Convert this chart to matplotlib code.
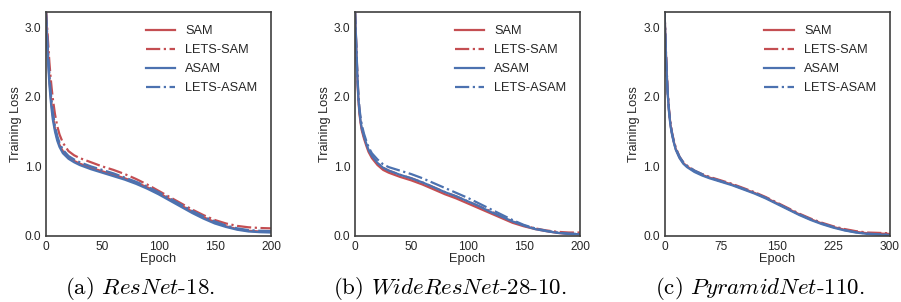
import matplotlib
matplotlib.use("Agg")
import matplotlib.pyplot as plt
import numpy as np

# ---------------- data ----------------
epochs_a = [0, 1, 2, 3, 4, 5, 6, 8, 10, 12, 15, 20, 25, 30, 40, 50, 60, 70, 80, 90,
            100, 110, 120, 130, 140, 150, 160, 170, 180, 190, 200]
sam_a = [3.25, 2.9, 2.55, 2.25, 2.05, 1.88, 1.74, 1.54, 1.40, 1.31, 1.22, 1.13, 1.08, 1.04, 0.98,
         0.93, 0.88, 0.83, 0.77, 0.70, 0.62, 0.53, 0.44, 0.35, 0.27, 0.20, 0.14, 0.10, 0.075, 0.065, 0.06]
lets_sam_a = [3.25, 3.0, 2.75, 2.5, 2.3, 2.13, 1.98, 1.75, 1.58, 1.46, 1.34, 1.22, 1.16, 1.12, 1.06,
              1.00, 0.95, 0.89, 0.82, 0.74, 0.65, 0.56, 0.47, 0.38, 0.30, 0.23, 0.18, 0.145, 0.125, 0.115, 0.11]
asam_a = [3.2, 2.8, 2.45, 2.18, 1.98, 1.82, 1.68, 1.50, 1.37, 1.28, 1.19, 1.11, 1.06, 1.02, 0.96,
          0.91, 0.86, 0.81, 0.75, 0.68, 0.60, 0.51, 0.42, 0.33, 0.25, 0.18, 0.13, 0.09, 0.065, 0.055, 0.05]
lets_asam_a = [3.22, 2.9, 2.6, 2.32, 2.1, 1.94, 1.79, 1.58, 1.44, 1.34, 1.24, 1.15, 1.10, 1.06, 1.00,
               0.95, 0.90, 0.84, 0.78, 0.71, 0.63, 0.54, 0.45, 0.36, 0.28, 0.21, 0.15, 0.11, 0.085, 0.075, 0.07]

epochs_b = [0, 1, 2, 3, 4, 5, 6, 8, 10, 12, 15, 20, 25, 30, 40, 50, 60, 70, 80, 90,
            100, 110, 120, 130, 140, 150, 160, 170, 180, 190, 200]
sam_b = [3.25, 2.75, 2.3, 1.95, 1.75, 1.62, 1.52, 1.40, 1.30, 1.21, 1.12, 1.02, 0.95, 0.91, 0.85,
         0.80, 0.74, 0.67, 0.60, 0.54, 0.47, 0.40, 0.33, 0.26, 0.19, 0.14, 0.10, 0.07, 0.045, 0.03, 0.025]
lets_sam_b = [3.25, 2.8, 2.35, 2.0, 1.8, 1.66, 1.56, 1.43, 1.33, 1.24, 1.15, 1.05, 0.98, 0.94, 0.88,
              0.83, 0.77, 0.70, 0.63, 0.57, 0.50, 0.43, 0.36, 0.28, 0.21, 0.15, 0.11, 0.08, 0.06, 0.05, 0.05]
asam_b = [3.25, 2.78, 2.33, 1.98, 1.78, 1.65, 1.55, 1.43, 1.33, 1.24, 1.15, 1.05, 0.98, 0.94, 0.88,
          0.83, 0.77, 0.70, 0.63, 0.57, 0.50, 0.43, 0.35, 0.28, 0.21, 0.15, 0.10, 0.07, 0.045, 0.03, 0.025]
lets_asam_b = [3.25, 2.82, 2.38, 2.03, 1.83, 1.70, 1.60, 1.47, 1.37, 1.28, 1.19, 1.10, 1.03, 0.99, 0.94,
               0.89, 0.83, 0.76, 0.69, 0.62, 0.55, 0.47, 0.39, 0.31, 0.23, 0.16, 0.11, 0.075, 0.05, 0.035, 0.03]

epochs_c = [0, 2, 4, 6, 8, 10, 12, 15, 20, 25, 30, 40, 50, 60, 75, 90, 105, 120, 135, 150,
            165, 180, 195, 210, 225, 240, 255, 270, 285, 300]
sam_c = [3.25, 2.6, 2.1, 1.8, 1.6, 1.47, 1.37, 1.25, 1.13, 1.05, 1.00, 0.93, 0.88, 0.84, 0.79,
         0.74, 0.68, 0.62, 0.55, 0.47, 0.39, 0.31, 0.24, 0.18, 0.13, 0.09, 0.06, 0.04, 0.035, 0.03]
lets_sam_c = [3.25, 2.62, 2.12, 1.82, 1.62, 1.49, 1.39, 1.27, 1.14, 1.06, 1.01, 0.94, 0.89, 0.85, 0.80,
              0.75, 0.69, 0.63, 0.56, 0.48, 0.40, 0.32, 0.25, 0.19, 0.14, 0.10, 0.07, 0.05, 0.045, 0.04]
asam_c = [3.25, 2.58, 2.08, 1.78, 1.58, 1.46, 1.36, 1.24, 1.12, 1.04, 0.99, 0.92, 0.87, 0.83, 0.78,
          0.73, 0.67, 0.61, 0.54, 0.46, 0.38, 0.30, 0.23, 0.17, 0.12, 0.08, 0.05, 0.03, 0.02, 0.015]
lets_asam_c = [3.25, 2.61, 2.11, 1.81, 1.61, 1.48, 1.38, 1.26, 1.14, 1.06, 1.01, 0.94, 0.89, 0.84, 0.79,
               0.74, 0.68, 0.62, 0.55, 0.47, 0.39, 0.31, 0.24, 0.18, 0.13, 0.085, 0.055, 0.035, 0.025, 0.02]

xticks_a = [0, 50, 100, 150, 200]
xticks_b = [0, 50, 100, 150, 200]
xticks_c = [0, 75, 150, 225, 300]
yticks = [0.0, 1.0, 2.0, 3.0]
captions = [r"(a) $\mathit{ResNet}$-$\mathit{18}$.",
            r"(b) $\mathit{WideResNet}$-$\mathit{28}$-$\mathit{10}$.",
            r"(c) $\mathit{PyramidNet}$-$\mathit{110}$."]
legend_labels = ["SAM", "LETS-SAM", "ASAM", "LETS-ASAM"]

# ---------------- style ----------------
plt.rcParams['mathtext.fontset'] = 'cm'
plt.rcParams['font.family'] = ['Liberation Sans', 'DejaVu Sans']
RED = '#c44e52'
BLUE = '#4c72b0'
TXT = '#262626'
FS = 9.2
TFS = 8.6

fig = plt.figure(figsize=(9.01, 3.02), dpi=100)
W, H = 901, 302
panels = [
    (46, epochs_a, [sam_a, lets_sam_a, asam_a, lets_asam_a], xticks_a, 200, 140),
    (355, epochs_b, [sam_b, lets_sam_b, asam_b, lets_asam_b], xticks_b, 200, 450),
    (664.5, epochs_c, [sam_c, lets_sam_c, asam_c, lets_asam_c], xticks_c, 300, 760),
]
styles = [(RED, '-'), (RED, '-.'), (BLUE, '-'), (BLUE, '-.')]

for i, (left, ep, series, xt, xmax, capx) in enumerate(panels):
    ax = fig.add_axes([left / W, 1 - 236 / H, 225 / W, 224 / H])
    for s, (c, ls), lab in zip(series, styles, legend_labels):
        ax.plot(ep, s, color=c, ls=ls, lw=1.6, label=lab)
    ax.set_xlim(0, xmax)
    ax.set_ylim(0, 3.22)
    ax.set_xticks(xt)
    ax.set_yticks(yticks)
    ax.set_yticklabels([f"{v:.1f}" for v in yticks])
    ax.tick_params(length=0, labelsize=TFS, colors=TXT, pad=3.5)
    for sp in ax.spines.values():
        sp.set_color('#404040')
        sp.set_linewidth(1.2)
    ax.set_xlabel("Epoch", fontsize=FS, color=TXT, labelpad=0)
    ax.set_ylabel("Training Loss", fontsize=FS, color=TXT, labelpad=2)
    leg = ax.legend(loc='upper right', frameon=False, fontsize=FS,
                    handlelength=2.3, labelspacing=0.55, handletextpad=0.8,
                    borderaxespad=0.65)
    for t in leg.get_texts():
        t.set_color(TXT)
    fig.text(capx / W, 1 - 288 / H, captions[i], fontsize=16.5, family='cmr10',
             ha='center', va='center', color='black')

fig.savefig("out.png", dpi=100)
